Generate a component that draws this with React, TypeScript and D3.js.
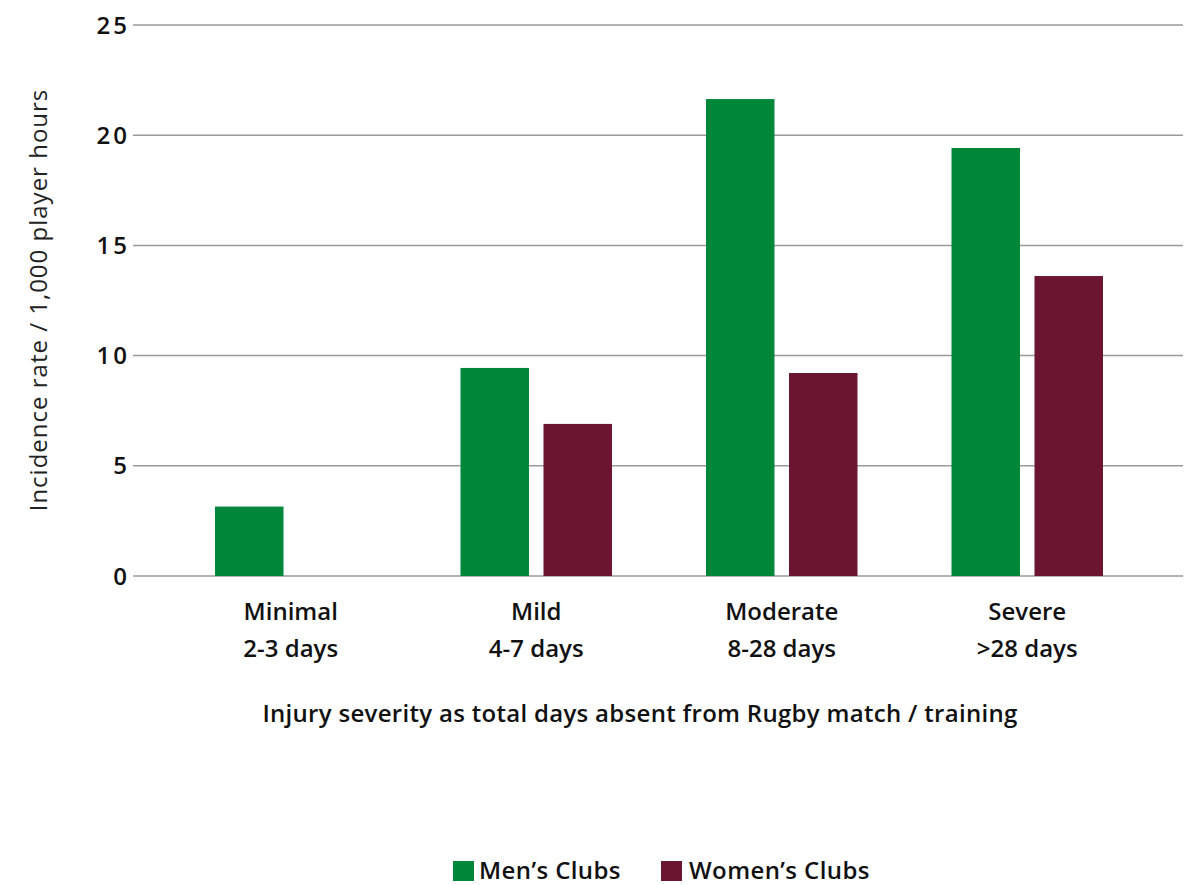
import React from "react";
import * as d3 from "d3";

const categories = ["Minimal", "Mild", "Moderate", "Severe"];
const categorySub = ["2-3 days", "4-7 days", "8-28 days", ">28 days"];
const seriesNames = ["Men\u2019s Clubs", "Women\u2019s Clubs"];
const mensClubs = [3.15, 9.44, 21.64, 19.42];
const womensClubs = [0, 6.9, 9.21, 13.61];
const yTicks = [0, 5, 10, 15, 20, 25];

const COLORS = ["#00873a", "#6b1530"];
const FONT = "'Open Sans', sans-serif";

export default function App() {
  const width = 1189;
  const height = 885;

  const x = d3.scaleBand<string>().domain(categories).range([168, 1150]).paddingInner(0).paddingOuter(0);
  const y = d3.scaleLinear().domain([0, 25]).range([576, 25]);
  const barW = 68.5;
  const gap = 14.5;
  const series = [mensClubs, womensClubs];

  return (
    <svg width={width} height={height} style={{ position: "absolute", left: 0, top: 0, background: "#fff" }}>
      {/* gridlines and y tick labels */}
      {yTicks.map((t) => (
        <g key={t}>
          <line x1={133} x2={1183} y1={y(t)} y2={y(t)} stroke="#9a9a9a" strokeWidth={1.5} />
          <text
            x={130}
            y={y(t)}
            dy="0.36em"
            textAnchor="end"
            fontFamily={FONT}
            fontWeight={600}
            fontSize={24}
            letterSpacing={3}
            fill="#111"
          >
            {t}
          </text>
        </g>
      ))}

      {/* bars */}
      {categories.map((c, i) => {
        const center = (x(c) ?? 0) + x.bandwidth() / 2;
        const start = center - barW - gap / 2;
        return series.map((vals, s) => {
          const v = vals[i];
          if (!v) return null;
          return (
            <rect
              key={c + s}
              x={start + s * (barW + gap)}
              y={y(v)}
              width={barW}
              height={y(0) - y(v)}
              fill={COLORS[s]}
            />
          );
        });
      })}

      {/* category labels */}
      {categories.map((c, i) => {
        const center = (x(c) ?? 0) + x.bandwidth() / 2;
        return (
          <text key={c} textAnchor="middle" fontFamily={FONT} fontWeight={600} fontSize={24} fill="#111">
            <tspan x={center} y={620}>{c}</tspan>
            <tspan x={center} y={657}>{categorySub[i]}</tspan>
          </text>
        );
      })}

      {/* axis titles */}
      <text
        x={640}
        y={722}
        textAnchor="middle"
        fontFamily={FONT}
        fontWeight={600}
        fontSize={24}
        letterSpacing={0.3}
        fill="#111"
      >
        Injury severity as total days absent from Rugby match / training
      </text>
      <text
        transform="translate(47,300) rotate(-90)"
        textAnchor="middle"
        fontFamily={FONT}
        fontWeight={400}
        fontSize={24}
        letterSpacing={1}
        fill="#222"
      >
        Incidence rate / 1,000 player hours
      </text>

      {/* legend */}
      <g>
        <rect x={453} y={861} width={21} height={20} fill={COLORS[0]} />
        <text x={479} y={879} fontFamily={FONT} fontWeight={600} fontSize={24} letterSpacing={0.4} fill="#111">
          {seriesNames[0]}
        </text>
        <rect x={661} y={861} width={21} height={20} fill={COLORS[1]} />
        <text x={689} y={879} fontFamily={FONT} fontWeight={600} fontSize={24} letterSpacing={0.4} fill="#111">
          {seriesNames[1]}
        </text>
      </g>
    </svg>
  );
}
